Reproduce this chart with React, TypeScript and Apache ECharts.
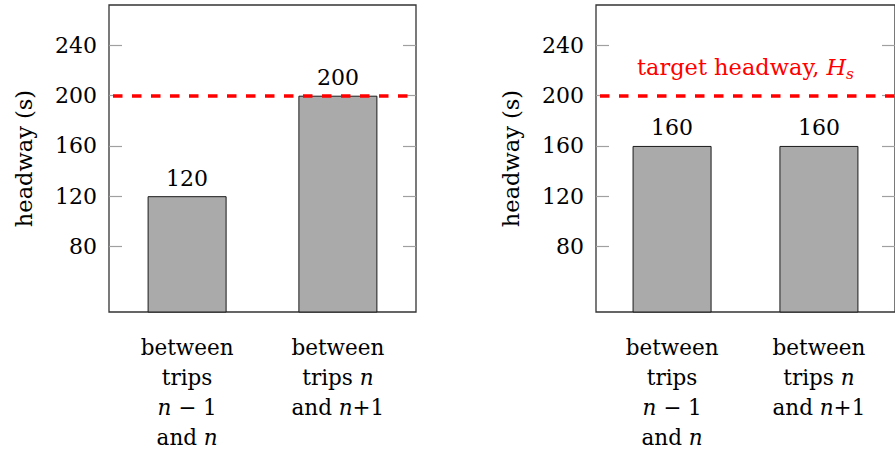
import React, { useEffect, useRef } from 'react';
import * as echarts from 'echarts';

// ---- data ----
const categoryLabels = [
  '{r|between}\n{r|trips}\n{i|n}{r| − 1}\n{r|and }{i|n}',
  '{r|between}\n{r|trips }{i|n}\n{r|and }{i|n}{r|+1}',
];
const categoryPositions = [0, 1];
const leftHeadways = [120, 200];
const rightHeadways = [160, 160];
const targetHeadway = 200;
const yTicks = [80, 120, 160, 200, 240];
const yMin = 27.8;
const yMax = 272.2;
const xMin = -0.518;
const xMax = 1.518;
const yAxisName = 'headway (s)';
const targetLabel = '{t|target headway, }{h|H}{s|s}';

const FONT = 'DejaVu Serif';
const FS_NUM = 22;
const FS_TXT = 21.5;

export default function App() {
  const ref = useRef<HTMLDivElement>(null);
  useEffect(() => {
    const chart = echarts.init(ref.current as HTMLDivElement, null, { renderer: 'svg' });
    const grids = [
      { left: 109, top: 5, width: 307, height: 307 },
      { left: 596, top: 5, width: 307, height: 307 },
    ];
    const num = { fontFamily: FONT, fontSize: FS_NUM, color: '#000' };
    const txt = { fontFamily: FONT, fontSize: FS_TXT, color: '#000' };
    const xAxes = grids.map((_, i) => ({
      type: 'value',
      gridIndex: i,
      min: xMin,
      max: xMax,
      axisLine: { show: false, onZero: false },
      axisTick: { show: false },
      splitLine: { show: false },
      axisLabel: {
        customValues: categoryPositions,
        formatter: (v: number) => categoryLabels[Math.round(v)],
        ...txt,
        lineHeight: 30,
        margin: 20,
        rich: {
          r: { ...txt, lineHeight: 30 },
          i: { ...txt, lineHeight: 30, fontStyle: 'italic' },
        },
      },
    }));
    const yAxes: any[] = [];
    grids.forEach((_, i) => {
      yAxes.push({
        type: 'value',
        gridIndex: i,
        min: yMin,
        max: yMax,
        position: 'left',
        name: yAxisName,
        nameLocation: 'middle',
        nameRotate: 90,
        nameGap: 74,
        nameTextStyle: { ...txt, fontSize: 22.5 },
        axisLine: { show: false, onZero: false },
        splitLine: { show: false },
        axisTick: {
          show: true,
          inside: true,
          length: 13,
          customValues: yTicks,
          lineStyle: { color: '#a0a0a0', width: 1.2 },
        },
        axisLabel: { customValues: yTicks, margin: 12, ...num },
      });
      yAxes.push({
        type: 'value',
        gridIndex: i,
        min: yMin,
        max: yMax,
        position: 'right',
        axisLine: { show: false, onZero: false },
        splitLine: { show: false },
        axisTick: {
          show: true,
          inside: true,
          length: 13,
          customValues: yTicks,
          lineStyle: { color: '#a0a0a0', width: 1.2 },
        },
        axisLabel: { show: false, customValues: yTicks },
      });
    });
    const makeSeries = (values: number[], idx: number, withLabel: boolean) => ({
      type: 'bar',
      xAxisIndex: idx,
      yAxisIndex: idx * 2,
      data: values.map((v, i) => [categoryPositions[i], v]),
      barWidth: 79,
      clip: true,
      itemStyle: { color: '#aaaaaa', borderColor: '#1a1a1a', borderWidth: 1 },
      label: { show: true, position: 'top', distance: 7, ...num, formatter: (p: any) => String(p.value[1]) },
      markLine: {
        silent: true,
        symbol: ['none', 'none'],
        data: [{ yAxis: targetHeadway }],
        lineStyle: { color: '#ff0000', type: [9.5, 9.5], dashOffset: 15.3, width: 3.6 },
        label: withLabel
          ? {
              show: true,
              position: 'insideMiddleTop',
              distance: 14,
              formatter: () => targetLabel,
              lineHeight: 30,
              rich: {
                t: { fontFamily: FONT, fontSize: 22.5, color: '#ff0000', lineHeight: 30 },
                h: { fontFamily: FONT, fontSize: 22.5, color: '#ff0000', fontStyle: 'italic', lineHeight: 30 },
                s: { fontFamily: FONT, fontSize: 15.5, color: '#ff0000', fontStyle: 'italic', lineHeight: 15.5, verticalAlign: 'bottom' },
              },
            }
          : { show: false },
      },
    });
    chart.setOption({
      animation: false,
      grid: grids.map((g) => ({ ...g, show: true, borderColor: '#333', borderWidth: 1.3, backgroundColor: 'transparent' })),
      xAxis: xAxes,
      yAxis: yAxes,
      series: [makeSeries(leftHeadways, 0, false), makeSeries(rightHeadways, 1, true)],
    });
    return () => chart.dispose();
  }, []);
  return <div ref={ref} style={{ position: 'absolute', left: 0, top: 0, width: 895, height: 452 }} />;
}
